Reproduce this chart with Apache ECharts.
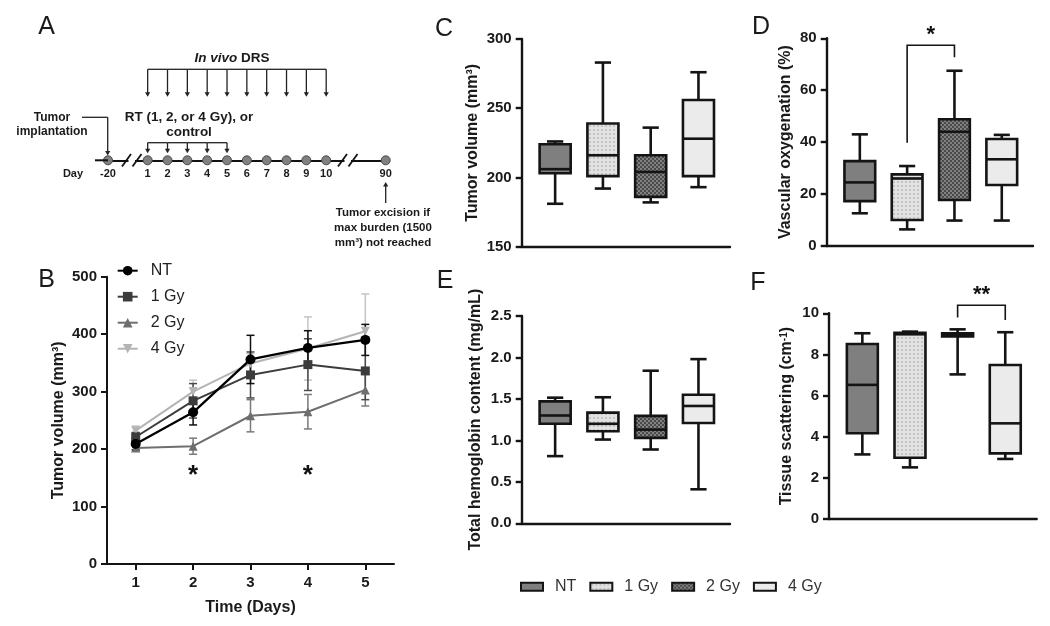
<!DOCTYPE html>
<html><head><meta charset="utf-8">
<script src="https://cdn.jsdelivr.net/npm/echarts@6/dist/echarts.min.js"></script>
<style>html,body{margin:0;padding:0;background:#fff}#c{width:1050px;height:626px}</style>
</head><body><div id="c"></div>
<script>
const FONT = '"Liberation Sans", Arial, Helvetica, sans-serif';

// ---------- Panel A: experimental timeline ----------
const timelineSlots = ['-20', '', '1', '2', '3', '4', '5', '6', '7', '8', '9', '10', '', '', '90'];
const timelineDays = ['-20', '1', '2', '3', '4', '5', '6', '7', '8', '9', '10', '90'];
const drsDays = ['1', '2', '3', '4', '5', '6', '7', '8', '9', '10'];
const rtDays = ['1', '2', '3', '4', '5'];

// ---------- Panel B: tumor growth (mean ± SEM) ----------
const timeDays = ['1', '2', '3', '4', '5'];
const ntMean = [209, 264, 356, 376, 390];
const ntSem = [10, 22, 42, 30, 27];
const gy1Mean = [221, 284, 329, 347, 336];
const gy1Sem = [8, 30, 40, 45, 50];
const gy2Mean = [202, 205, 258, 265, 303];
const gy2Sem = [5, 14, 28, 30, 28];
const gy4Mean = [232, 300, 349, 375, 405];
const gy4Sem = [8, 20, 17, 55, 65];
const sigDaysB = ['2', '4'];
const sigLevelB = 160;

// ---------- Panels C-F: box plots [min, Q1, median, Q3, max] ----------
const groups = ['NT', '1 Gy', '2 Gy', '4 Gy'];
const volumeStats = [[181, 203, 206, 224, 226], [192, 201, 216, 239, 283], [182, 186, 204, 216, 236], [193, 201, 228, 256, 276]];
const oxygenationStats = [[12.6, 17.3, 24.5, 32.7, 43], [6.4, 10, 26, 27.6, 30.8], [9.8, 17.7, 44, 48.8, 67.5], [9.8, 23.5, 33.4, 41.2, 42.8]];
const hemoglobinStats = [[0.81, 1.2, 1.3, 1.47, 1.515], [1.01, 1.11, 1.2, 1.335, 1.52], [0.89, 1.03, 1.13, 1.295, 1.84], [0.41, 1.21, 1.415, 1.55, 1.98]];
const scatteringStats = [[3.14, 4.17, 6.52, 8.51, 9.03], [2.51, 2.98, 8.98, 9.05, 9.11], [7.03, 8.87, 8.93, 9.03, 9.22], [2.92, 3.19, 4.65, 7.49, 9.08]];
// significance brackets: [groupA, groupB, leftEnd, top, rightEnd]
const sigOxygenation = [2, 3, 39.8, 77.3, 72.7];
const sigScattering = [3, 4, 9.79, 10.39, 9.68];

// ---------- fill patterns ----------
function makePattern(bg, dot, step, pts, r) {
  const c = document.createElement('canvas');
  c.width = c.height = step;
  const ctx = c.getContext('2d');
  ctx.fillStyle = bg; ctx.fillRect(0, 0, step, step);
  ctx.fillStyle = dot;
  pts.forEach(p => { ctx.beginPath(); ctx.arc(p[0], p[1], r, 0, Math.PI * 2); ctx.fill(); });
  return { image: c, repeat: 'repeat' };
}
const fills = [
  '#7f7f7f',
  makePattern('#e2e2e2', '#9a9a9a', 4, [[2, 2]], 0.75),
  makePattern('#4a4a4a', '#c9c9c9', 4, [[1, 1], [3, 3]], 0.8),
  '#ebebeb'
];

const STROKE = '#141414';

function renderBox(params, api) {
  const x = api.value(0);
  const v = [1, 2, 3, 4, 5].map(k => api.coord([x, api.value(k)])[1]);
  const cx = api.coord([x, api.value(1)])[0];
  const bw = api.size([0.65, 0])[0];
  const cw = api.size([0.34, 0])[0];
  const ls = { stroke: STROKE, lineWidth: 2.6 };
  return {
    type: 'group',
    children: [
      { type: 'line', shape: { x1: cx, y1: v[4], x2: cx, y2: v[3] }, style: ls },
      { type: 'line', shape: { x1: cx - cw / 2, y1: v[4], x2: cx + cw / 2, y2: v[4] }, style: ls },
      { type: 'line', shape: { x1: cx, y1: v[1], x2: cx, y2: v[0] }, style: ls },
      { type: 'line', shape: { x1: cx - cw / 2, y1: v[0], x2: cx + cw / 2, y2: v[0] }, style: ls },
      { type: 'rect', shape: { x: cx - bw / 2, y: v[3], width: bw, height: v[1] - v[3] }, style: { fill: fills[x - 1], stroke: STROKE, lineWidth: 2.6 } },
      { type: 'line', shape: { x1: cx - bw / 2, y1: v[2], x2: cx + bw / 2, y2: v[2] }, style: ls }
    ]
  };
}

function renderBracket(label) {
  return function (params, api) {
    const b = api.coord([api.value(1), api.value(4)]);
    const t = api.coord([api.value(0), api.value(3)]);
    const l = api.coord([api.value(0), api.value(2)]);
    const top = t[1];
    return {
      type: 'group',
      children: [
        { type: 'polyline', shape: { points: [[l[0], l[1]], [l[0], top], [b[0], top], [b[0], b[1]]] }, style: { stroke: STROKE, lineWidth: 1.6, fill: null } },
        { type: 'text', style: { x: (l[0] + b[0]) / 2, y: top - 10, text: label, fontSize: 22, fontWeight: 'bold', fontFamily: FONT, fill: '#111', align: 'center', verticalAlign: 'middle' } }
      ]
    };
  };
}

function renderErrorBar(color) {
  return function (params, api) {
    const i = api.value(0), m = api.value(1), s = api.value(2);
    const top = api.coord([i, m + s]), bot = api.coord([i, m - s]);
    const cx = top[0], hw = 4;
    const st = { stroke: color, lineWidth: 1.5 };
    return {
      type: 'group',
      children: [
        { type: 'line', shape: { x1: cx, y1: top[1], x2: cx, y2: bot[1] }, style: st },
        { type: 'line', shape: { x1: cx - hw, y1: top[1], x2: cx + hw, y2: top[1] }, style: st },
        { type: 'line', shape: { x1: cx - hw, y1: bot[1], x2: cx + hw, y2: bot[1] }, style: st }
      ]
    };
  };
}

function renderArrows(topOff, tipOff) {
  return function (params, api) {
    const p = api.coord([api.value(0), 0]);
    const q = api.coord([api.value(1), 0]);
    const x = p[0], base = p[1];
    const yTop = base - topOff, yTip = base - tipOff;
    const st = { stroke: '#222', lineWidth: 1.3 };
    const ch = [
      { type: 'line', shape: { x1: x, y1: yTop, x2: x, y2: yTip - 3 }, style: st },
      { type: 'polygon', shape: { points: [[x - 2.6, yTip - 4.5], [x + 2.6, yTip - 4.5], [x, yTip]] }, style: { fill: '#222' } }
    ];
    if (q[0] > x) ch.push({ type: 'line', shape: { x1: x, y1: yTop, x2: q[0], y2: yTop }, style: st });
    return { type: 'group', children: ch };
  };
}

const axisLabelStyle = { fontFamily: FONT, fontWeight: 'bold', fontSize: 15, color: '#1a1a1a' };
const nameStyle = { fontFamily: FONT, fontWeight: 'bold', fontSize: 16, color: '#1a1a1a' };
const axLine = { show: true, onZero: false, lineStyle: { color: STROKE, width: 2.4 } };

const grids = [
  { left: 107, top: 276.7, width: 287, height: 287.3 },
  { left: 521.7, top: 39, width: 208.3, height: 207.7 },
  { left: 826.7, top: 38.3, width: 206.3, height: 207.7 },
  { left: 521.7, top: 316, width: 208.3, height: 207.3 },
  { left: 829, top: 313.3, width: 207.7, height: 205.7 },
  { left: 108, top: 40, width: 277.7, height: 120.3 }
].map(g => Object.assign({ outerBoundsMode: 'none', containLabel: false }, g));

const xAxes = [
  { gridIndex: 0, type: 'category', data: timeDays, boundaryGap: true, axisLine: { show: true, lineStyle: { color: STROKE, width: 2 } },
    axisTick: { show: true, alignWithLabel: true, length: 6, lineStyle: { color: STROKE, width: 2 } },
    axisLabel: Object.assign({ margin: 11 }, axisLabelStyle), splitLine: { show: false },
    name: 'Time (Days)', nameLocation: 'middle', nameGap: 36, nameTextStyle: nameStyle }
];
const yAxes = [
  { gridIndex: 0, type: 'value', min: 0, max: 500, interval: 100, axisLine: { show: true, onZero: false, lineStyle: { color: STROKE, width: 2 } },
    axisTick: { show: true, length: 6, lineStyle: { color: STROKE, width: 2 } }, axisLabel: Object.assign({ margin: 10 }, axisLabelStyle), splitLine: { show: false },
    name: 'Tumor volume (mm³)', nameLocation: 'middle', nameGap: 40, nameTextStyle: nameStyle }
];

const panels = [
  { stats: volumeStats, min: 150, max: 300, interval: 50, name: 'Tumor volume (mm³)', gap: 41, fmt: v => String(v) },
  { stats: oxygenationStats, min: 0, max: 80, interval: 20, name: 'Vascular oxygenation (%)', gap: 33, fmt: v => String(v) },
  { stats: hemoglobinStats, min: 0, max: 2.5, interval: 0.5, name: 'Total hemoglobin content (mg/mL)', gap: 38, fmt: v => v.toFixed(1) },
  { stats: scatteringStats, min: 0, max: 10, interval: 2, name: 'Tissue scattering (cm{s|-1})', gap: 34, fmt: v => String(v) }
];

const series = [];
panels.forEach((p, k) => {
  const gi = k + 1;
  xAxes.push({ gridIndex: gi, type: 'value', min: 0.3, max: 4.66, axisLine: axLine, axisTick: { show: false }, axisLabel: { show: false }, splitLine: { show: false } });
  yAxes.push({ gridIndex: gi, type: 'value', min: p.min, max: p.max, interval: p.interval, axisLine: axLine,
    axisTick: { show: true, length: 6, lineStyle: { color: STROKE, width: 2.4 } },
    axisLabel: Object.assign({ margin: 10, formatter: p.fmt }, axisLabelStyle), splitLine: { show: false },
    name: p.name, nameLocation: 'middle', nameGap: p.gap,
    nameTextStyle: Object.assign({ rich: { s: { fontFamily: FONT, fontWeight: 'bold', fontSize: 10, verticalAlign: 'top', color: '#1a1a1a' } } }, nameStyle) });
  groups.forEach((g, j) => {
    series.push({ type: 'custom', name: 'box:' + g, xAxisIndex: gi, yAxisIndex: gi, renderItem: renderBox,
      itemStyle: { color: fills[j], borderColor: STROKE, borderWidth: 2 },
      data: [[j + 1].concat(p.stats[j])] });
  });
});
// significance brackets
series.push({ type: 'custom', xAxisIndex: 2, yAxisIndex: 2, renderItem: renderBracket('*'), data: [sigOxygenation], z: 10 });
series.push({ type: 'custom', xAxisIndex: 4, yAxisIndex: 4, renderItem: renderBracket('**'), data: [sigScattering], z: 10 });

// Panel B lines
const lineGroups = [
  { name: '4 Gy', mean: gy4Mean, sem: gy4Sem, color: '#b4b4b4', err: '#c4c4c4', symbol: 'triangle', rotate: 180, size: 9 },
  { name: '2 Gy', mean: gy2Mean, sem: gy2Sem, color: '#6e6e6e', err: '#7a7a7a', symbol: 'triangle', rotate: 0, size: 9 },
  { name: '1 Gy', mean: gy1Mean, sem: gy1Sem, color: '#3c3c3c', err: '#4a4a4a', symbol: 'rect', rotate: 0, size: 9 },
  { name: 'NT', mean: ntMean, sem: ntSem, color: '#000000', err: '#111111', symbol: 'circle', rotate: 0, size: 10 }
];
lineGroups.forEach((lg, k) => {
  series.push({ type: 'custom', xAxisIndex: 0, yAxisIndex: 0, renderItem: renderErrorBar(lg.err), z: 2 + k,
    data: timeDays.map((d, i) => [i, lg.mean[i], lg.sem[i]]) });
});
lineGroups.forEach((lg, k) => {
  series.push({ type: 'line', name: lg.name, xAxisIndex: 0, yAxisIndex: 0, data: lg.mean, symbol: lg.symbol, symbolRotate: lg.rotate,
    symbolSize: lg.size, showSymbol: true, lineStyle: { color: lg.color, width: lg.name === 'NT' ? 2.3 : 2 },
    itemStyle: { color: lg.color }, z: 10 + k });
});
series.push({ type: 'custom', xAxisIndex: 0, yAxisIndex: 0, z: 20,
  data: sigDaysB.map(d => [timeDays.indexOf(d), sigLevelB]),
  renderItem: (params, api) => {
    const p = api.coord([api.value(0), api.value(1)]);
    return { type: 'text', style: { x: p[0], y: p[1] + 4, text: '*', fontSize: 26, fontWeight: 'bold', fontFamily: FONT, fill: '#111', align: 'center', verticalAlign: 'middle' } };
  } });

// Panel A timeline
xAxes.push({ gridIndex: 5, type: 'category', data: timelineSlots, boundaryGap: false,
  axisLine: { show: true, onZero: false, lineStyle: { color: '#111', width: 2 } }, axisTick: { show: false },
  axisLabel: { interval: 0, fontFamily: FONT, fontWeight: 'bold', fontSize: 11, color: '#1a1a1a', margin: 8 }, splitLine: { show: false } });
yAxes.push({ gridIndex: 5, type: 'value', min: 0, max: 1, show: false });
const slot = d => timelineSlots.indexOf(d);
series.push({ type: 'custom', xAxisIndex: 5, yAxisIndex: 5, z: 3, renderItem: renderArrows(91, 63.6),
  data: drsDays.map((d, k) => [slot(d), slot(drsDays[k + 1] || d)]) });
series.push({ type: 'custom', xAxisIndex: 5, yAxisIndex: 5, z: 3, renderItem: renderArrows(17.6, 7),
  data: rtDays.map((d, k) => [slot(d), slot(rtDays[k + 1] || d)]) });
series.push({ type: 'scatter', xAxisIndex: 5, yAxisIndex: 5, z: 5, symbol: 'circle', symbolSize: 9, clip: false,
  itemStyle: { color: '#808080', borderColor: '#4a4a4a', borderWidth: 1, opacity: 1 },
  data: timelineDays.map(d => [slot(d), 0]) });

function txt(x, y, text, size, weight, extra) {
  return { type: 'text', z: 100, style: Object.assign({ x: x, y: y, text: text, fontSize: size, fontWeight: weight, fontFamily: FONT, fill: '#1a1a1a', align: 'center', verticalAlign: 'middle' }, extra || {}) };
}
function seg(x1, y1, x2, y2, w, color) {
  return { type: 'line', z: 100, shape: { x1: x1, y1: y1, x2: x2, y2: y2 }, style: { stroke: color || '#222', lineWidth: w || 1.3 } };
}
function head(x, y, dir) {
  const d = dir === 'down' ? 1 : -1;
  return { type: 'polygon', z: 100, shape: { points: [[x - 2.6, y - 4.5 * d], [x + 2.6, y - 4.5 * d], [x, y]] }, style: { fill: '#222' } };
}

const graphics = [
  txt(46.5, 27, 'A', 25, 'normal'), txt(46.5, 280, 'B', 25, 'normal'),
  txt(444, 29, 'C', 25, 'normal'), txt(761, 27, 'D', 25, 'normal'),
  txt(445, 281, 'E', 25, 'normal'), txt(758, 283, 'F', 25, 'normal'),
  txt(232, 58.7, '{i|In vivo} DRS', 13.5, 'bold', { rich: { i: { fontStyle: 'italic', fontWeight: 'bold', fontSize: 13.5, fontFamily: FONT, fill: '#1a1a1a' } } }),
  txt(189, 117.3, 'RT (1, 2, or 4 Gy), or', 13.5, 'bold'),
  txt(189, 132.3, 'control', 13.5, 'bold'),
  txt(52, 118, 'Tumor', 12, 'bold'),
  txt(52, 132, 'implantation', 12, 'bold'),
  txt(73, 173.5, 'Day', 11, 'bold'),
  seg(82, 117.3, 107.7, 117.3), seg(107.7, 117.3, 107.7, 151), head(107.7, 155.5, 'down'),
  seg(95, 160.3, 108, 160.3, 2, '#111'),
  { type: 'rect', z: 99, shape: { x: 128.5, y: 156, width: 6.5, height: 9 }, style: { fill: '#fff' } },
  { type: 'rect', z: 99, shape: { x: 344.5, y: 156, width: 6.5, height: 9 }, style: { fill: '#fff' } },
  seg(122, 166.5, 131, 154, 1.8, '#111'), seg(132.5, 166.5, 141.5, 154, 1.8, '#111'),
  seg(338, 166.5, 347, 154, 1.8, '#111'), seg(348.5, 166.5, 357.5, 154, 1.8, '#111'),
  seg(385.7, 203, 385.7, 185), head(385.7, 182, 'up'),
  txt(383, 213.3, 'Tumor excision if', 11.5, 'bold'),
  txt(383, 228.3, 'max burden (1500', 11.5, 'bold'),
  txt(383, 243.3, 'mm³) not reached', 11.5, 'bold')
];

const option = {
  animation: false,
  backgroundColor: '#ffffff',
  textStyle: { fontFamily: FONT },
  grid: grids,
  xAxis: xAxes,
  yAxis: yAxes,
  legend: [
    { data: ['NT', '1 Gy', '2 Gy', '4 Gy'], orient: 'vertical', left: 116.7, top: 262.7, padding: 0, itemWidth: 20, itemHeight: 12, itemGap: 10,
      selectedMode: false, textStyle: { fontFamily: FONT, fontSize: 16, color: '#222', padding: [0, 0, 0, 8] } },
    { data: groups.map(g => 'box:' + g), orient: 'horizontal', left: 520, top: 578.7, padding: 0, itemWidth: 22, itemHeight: 8, itemGap: 13,
      icon: 'rect', selectedMode: false, formatter: n => n.slice(4),
      itemStyle: { borderColor: STROKE, borderWidth: 2 },
      textStyle: { fontFamily: FONT, fontSize: 16, color: '#333', padding: [0, 0, 0, 7] } }
  ],
  series: series,
  graphic: graphics
};

const chart = echarts.init(document.getElementById('c'), null, { renderer: 'canvas', width: 1050, height: 626 });
chart.setOption(option);
</script>
</body></html>
